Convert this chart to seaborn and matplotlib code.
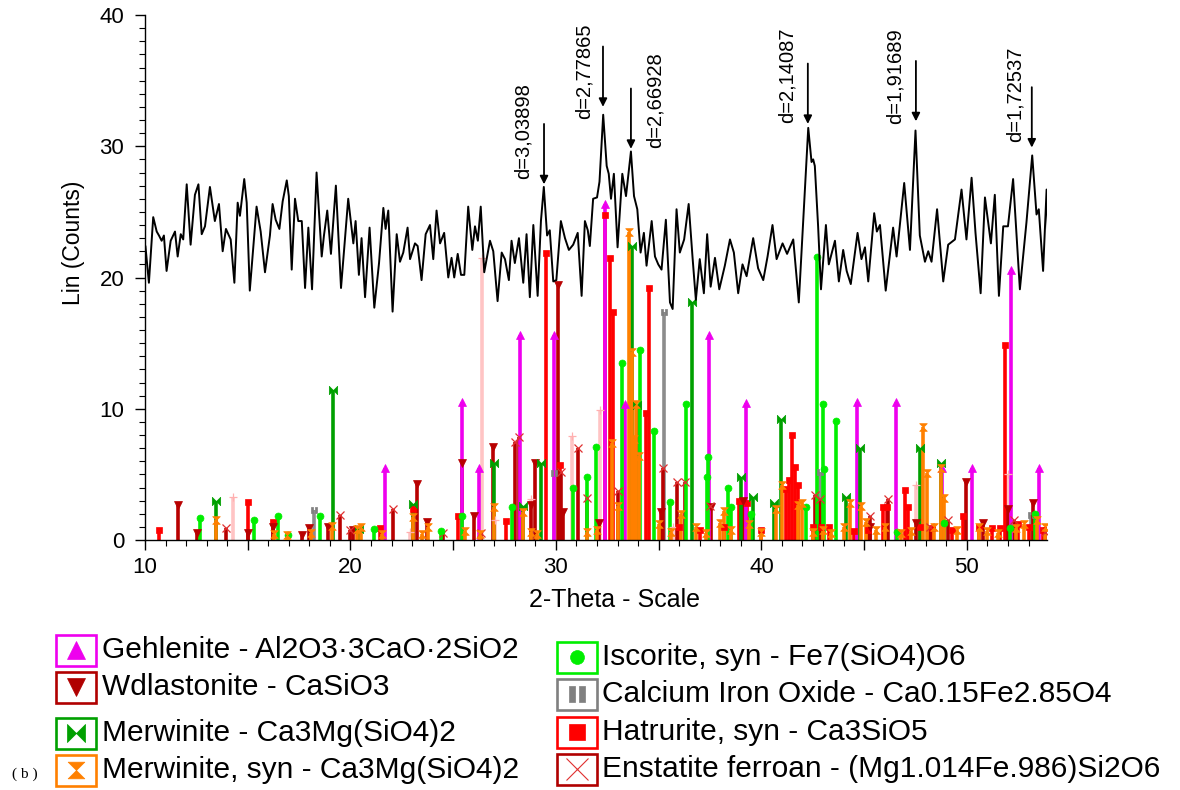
import matplotlib.pyplot as plt
import seaborn as sns
from matplotlib.path import Path
from matplotlib.patches import Rectangle
from matplotlib.lines import Line2D
from matplotlib.ticker import MultipleLocator, FuncFormatter

two_theta = [10.02, 10.19, 10.40, 10.57, 10.68, 10.81, 10.92, 11.05, 11.25, 11.46, 11.59, 11.74, 11.86,
             12.03, 12.22, 12.43, 12.60, 12.76, 12.92, 13.16, 13.40, 13.60, 13.78, 13.94, 14.17, 14.35,
             14.51, 14.62, 14.83, 14.95, 15.10, 15.43, 15.63, 15.84, 16.08, 16.21, 16.36, 16.54, 16.70,
             16.90, 17.00, 17.14, 17.30, 17.46, 17.63, 17.79, 17.95, 18.13, 18.35, 18.60, 18.71, 18.87,
             19.05, 19.29, 19.54, 19.89, 20.14, 20.25, 20.41, 20.54, 20.71, 20.93, 21.16, 21.39, 21.60,
             21.71, 21.84, 22.05, 22.25, 22.41, 22.57, 22.78, 22.90, 23.14, 23.27, 23.46, 23.66, 23.87,
             24.03, 24.19, 24.36, 24.56, 24.76, 24.92, 25.05, 25.22, 25.38, 25.54, 25.73, 25.93, 26.06,
             26.20, 26.34, 26.51, 26.79, 26.95, 27.16, 27.36, 27.52, 27.71, 27.84, 28.00, 28.20, 28.41,
             28.57, 28.73, 28.90, 29.11, 29.27, 29.41, 29.57, 29.70, 29.87, 30.02, 30.24, 30.44, 30.63,
             30.84, 31.06, 31.25, 31.41, 31.55, 31.65, 31.81, 32.00, 32.12, 32.30, 32.47, 32.57, 32.68,
             32.82, 33.00, 33.23, 33.41, 33.65, 33.80, 33.96, 34.12, 34.28, 34.41, 34.66, 34.82, 34.98,
             35.14, 35.35, 35.55, 35.68, 35.87, 36.03, 36.24, 36.46, 36.65, 36.81, 37.00, 37.20, 37.36,
             37.53, 37.74, 37.95, 38.22, 38.47, 38.66, 38.87, 39.08, 39.28, 39.60, 39.84, 40.09, 40.30,
             40.54, 40.74, 41.03, 41.25, 41.55, 41.82, 42.03, 42.28, 42.44, 42.52, 42.60, 42.76, 42.90,
             43.14, 43.28, 43.58, 43.77, 43.98, 44.15, 44.35, 44.68, 44.87, 45.04, 45.20, 45.49, 45.62,
             45.77, 46.05, 46.41, 46.58, 46.95, 47.23, 47.50, 47.71, 47.96, 48.12, 48.28, 48.55, 48.85,
             49.09, 49.42, 49.74, 49.98, 50.23, 50.42, 50.67, 50.88, 51.17, 51.36, 51.56, 51.77, 52.00,
             52.25, 52.58, 52.90, 53.18, 53.39, 53.50, 53.71, 53.88, 53.95]
counts = [22.4, 19.6, 24.6, 23.5, 23.2, 22.8, 23.2, 20.5, 22.8, 23.5, 21.6, 23.3, 22.9,
          27.1, 22.5, 26.3, 27.1, 23.3, 23.9, 26.9, 24.3, 25.6, 22.0, 23.7, 22.9, 19.6,
          25.7, 24.7, 27.5, 25.7, 19.0, 25.4, 23.5, 20.4, 23.2, 25.6, 24.4, 23.7, 25.8,
          27.4, 26.2, 20.6, 26.0, 24.3, 24.3, 19.2, 23.8, 19.1, 28.0, 21.6, 23.2, 25.1,
          21.8, 27.0, 19.2, 26.0, 22.6, 24.3, 20.2, 23.0, 18.5, 23.8, 17.7, 21.1, 25.3,
          23.7, 25.1, 17.4, 23.3, 21.2, 21.9, 23.8, 21.4, 22.6, 22.4, 19.8, 23.3, 24.0,
          21.4, 25.1, 22.6, 23.4, 20.0, 21.5, 20.0, 21.8, 20.2, 20.2, 25.4, 22.1, 23.9,
          22.8, 25.4, 20.4, 22.8, 22.0, 18.2, 21.9, 21.4, 19.8, 22.8, 21.1, 23.0, 19.6,
          23.3, 18.5, 24.0, 18.6, 24.3, 26.9, 23.2, 23.6, 19.7, 19.8, 24.3, 23.0, 22.1,
          22.5, 23.4, 18.6, 24.3, 23.6, 22.4, 26.0, 26.1, 27.3, 32.4, 28.5, 27.9, 26.0,
          27.9, 22.3, 27.9, 26.2, 29.6, 26.2, 25.2, 21.9, 23.4, 20.9, 24.3, 21.6, 21.0,
          20.6, 24.4, 18.1, 17.6, 25.2, 21.9, 22.9, 25.6, 21.5, 18.3, 21.4, 18.8, 23.3,
          19.3, 21.5, 19.1, 20.9, 22.9, 21.9, 18.8, 21.0, 20.1, 23.0, 20.7, 19.8, 21.6,
          24.0, 21.4, 22.6, 21.8, 22.9, 18.1, 24.2, 31.4, 28.8, 29.0, 28.5, 23.9, 19.1,
          24.0, 21.0, 22.8, 19.7, 22.1, 20.5, 19.5, 23.4, 21.4, 22.3, 19.7, 24.9, 23.5,
          24.0, 19.0, 23.8, 21.6, 27.2, 22.1, 31.2, 23.2, 21.2, 22.0, 21.2, 25.2, 19.7,
          22.5, 22.9, 26.7, 22.9, 27.6, 23.4, 18.8, 26.1, 22.6, 26.3, 18.6, 23.9, 23.9,
          27.5, 19.1, 24.2, 29.3, 24.8, 25.2, 20.5, 26.7, 23.5]

# reference phases: (2-theta, intensity)
gehlenite = [(21.70, 5.5), (25.45, 10.55), (26.27, 5.5), (28.25, 15.6), (29.93, 15.6), (32.40, 25.6),
             (33.35, 10.4), (37.47, 15.6), (39.25, 10.45), (44.66, 10.5), (46.56, 10.5), (48.80, 5.45),
             (50.27, 5.45), (52.17, 20.6), (53.50, 5.45)]
wollastonite = [(11.60, 2.7), (12.55, 0.5), (15.00, 0.5), (16.25, 1.0), (17.62, 0.4), (18.00, 0.9),
                (18.90, 1.0), (20.10, 0.8), (23.22, 4.3), (23.71, 1.4), (25.45, 5.85), (26.00, 1.8),
                (26.95, 7.1), (28.77, 2.7), (28.98, 5.9), (30.10, 19.45), (30.35, 2.1), (32.10, 1.3),
                (35.10, 2.1), (37.55, 2.5), (39.12, 3.0), (45.30, 1.0), (47.50, 1.3), (49.97, 4.45),
                (50.80, 1.3), (52.00, 2.4), (53.22, 2.8)]
merwinite = [(13.45, 3.0), (19.15, 11.4), (20.40, 0.85), (23.05, 2.75), (26.97, 5.85), (28.38, 2.6),
             (29.25, 5.9), (33.68, 22.4), (33.96, 10.3), (36.64, 18.1), (38.99, 4.8), (39.57, 3.3),
             (40.62, 2.85), (40.93, 9.2), (44.10, 3.3), (44.80, 7.0), (47.74, 7.0), (48.72, 5.85)]
merwinite_syn = [(13.45, 1.5), (16.27, 0.45), (16.90, 0.4), (18.10, 0.5), (19.12, 1.05), (20.30, 0.85),
                 (20.50, 1.0), (21.55, 0.45), (23.05, 1.75), (23.50, 0.45), (23.75, 1.0), (25.55, 0.7),
                 (26.30, 0.45), (26.97, 2.5), (28.38, 2.1), (28.80, 0.6), (29.10, 0.45), (31.50, 0.6),
                 (32.00, 0.8), (32.74, 7.4), (33.02, 2.6), (33.55, 23.5), (33.70, 14.3), (33.80, 7.7),
                 (33.90, 10.4), (34.06, 6.4), (35.00, 1.2), (35.60, 0.6), (36.10, 2.0), (36.80, 1.0),
                 (37.30, 0.5), (38.00, 1.3), (38.20, 2.2), (38.50, 0.8), (39.40, 1.2), (40.00, 0.6),
                 (40.70, 2.4), (41.00, 4.2), (41.80, 2.7), (42.00, 2.8), (42.50, 0.6), (43.00, 0.8),
                 (43.40, 0.5), (44.00, 1.0), (44.30, 2.8), (44.85, 2.6), (45.10, 1.4), (45.60, 0.8),
                 (46.00, 1.0), (46.80, 0.5), (47.30, 0.7), (47.88, 8.6), (48.05, 5.1), (48.40, 1.0),
                 (48.75, 5.5), (48.90, 3.2), (49.50, 0.8), (50.60, 1.0), (51.00, 0.7), (51.50, 0.5),
                 (52.40, 0.9), (52.80, 1.2), (53.40, 1.5), (53.80, 1.0)]
iscorite = [(12.70, 1.7), (15.30, 1.5), (16.45, 1.8), (16.95, 0.35), (18.52, 1.8), (21.14, 0.85),
            (24.40, 0.65), (25.45, 1.8), (27.84, 2.5), (30.85, 4.0), (31.49, 4.8), (31.93, 7.1),
            (33.20, 13.5), (34.10, 14.5), (34.78, 8.3), (35.55, 2.9), (36.33, 10.4), (37.35, 4.8),
            (37.41, 6.3), (38.39, 4.0), (38.50, 2.5), (39.50, 2.0), (42.17, 2.5), (42.72, 21.6),
            (42.98, 10.4), (43.05, 5.4), (43.63, 9.1), (46.60, 0.6), (48.90, 1.3), (52.10, 0.9),
            (53.30, 2.0)]
calcium_iron_oxide = [(18.24, 2.3), (29.92, 5.1), (35.28, 17.4), (42.87, 5.2), (53.10, 1.9)]
hatrurite = [(10.70, 0.8), (15.00, 2.9), (16.25, 1.4), (21.43, 0.95), (23.06, 2.35), (25.25, 1.8),
             (27.55, 1.45), (29.50, 21.9), (30.20, 5.7), (32.38, 24.8), (32.63, 21.5), (32.78, 17.4),
             (34.38, 9.7), (34.55, 19.2), (36.00, 1.0), (37.00, 0.8), (38.20, 1.0), (38.90, 3.0),
             (39.30, 2.8), (40.00, 0.8), (41.20, 3.9), (41.35, 4.6), (41.47, 8.0), (41.62, 5.6),
             (41.80, 4.2), (42.50, 1.0), (42.90, 1.0), (43.30, 1.0), (44.50, 0.7), (45.20, 0.8),
             (45.93, 2.55), (46.10, 2.5), (46.98, 3.8), (47.15, 2.5), (47.70, 1.0), (48.30, 0.9),
             (49.30, 0.8), (49.80, 1.8), (50.60, 1.0), (51.20, 0.9), (51.60, 0.9), (51.85, 14.85),
             (52.50, 1.2), (53.00, 1.0), (53.70, 0.8)]
enstatite = [(13.95, 0.9), (19.50, 1.9), (20.00, 0.75), (22.08, 2.35), (24.50, 0.5), (26.35, 0.5),
             (28.00, 7.5), (28.20, 7.85), (30.25, 5.2), (31.05, 7.0), (31.50, 3.2), (33.03, 3.7),
             (35.20, 5.5), (35.90, 4.45), (36.28, 4.45), (37.50, 2.6), (42.60, 3.4), (42.85, 3.1),
             (45.30, 1.8), (46.17, 3.1), (48.20, 1.0), (49.10, 1.5), (52.30, 1.5), (53.80, 0.6)]
unlisted_phase = [(14.30, 3.3), (22.90, 0.6), (26.40, 21.5), (27.05, 1.5), (28.77, 3.1), (30.80, 7.9),
                  (32.14, 9.9), (35.70, 1.0), (47.50, 4.2), (52.00, 5.0)]

# labelled peaks
peak_labels = ['d=3,03898', 'd=2,77865', 'd=2,66928', 'd=2,14087', 'd=1,91689', 'd=1,72537']
peak_pos = [29.42, 32.29, 33.65, 42.26, 47.52, 53.16]
peak_tip = [27.1, 33.0, 29.8, 31.7, 31.9, 29.9]

legend_labels = ['Gehlenite - Al2O3·3CaO·2SiO2', 'Wdlastonite - CaSiO3', 'Merwinite - Ca3Mg(SiO4)2',
                 'Merwinite, syn - Ca3Mg(SiO4)2', 'Iscorite, syn - Fe7(SiO4)O6',
                 'Calcium Iron Oxide - Ca0.15Fe2.85O4', 'Hatrurite, syn - Ca3SiO5',
                 'Enstatite ferroan - (Mg1.014Fe.986)Si2O6']

# custom stick symbols
bowtie = Path([(-1, 1), (-1, -1), (0, 0), (-1, 1), (1, 1), (1, -1), (0, 0), (1, 1)],
              [Path.MOVETO, Path.LINETO, Path.LINETO, Path.CLOSEPOLY] * 2)
hourglass = Path([(-1, 1), (1, 1), (0, 0), (-1, 1), (-1, -1), (1, -1), (0, 0), (-1, -1)],
                 [Path.MOVETO, Path.LINETO, Path.LINETO, Path.CLOSEPOLY] * 2)
pause = Path([(-0.9, -1), (-0.2, -1), (-0.2, 1), (-0.9, 1), (-0.9, -1),
              (0.2, -1), (0.9, -1), (0.9, 1), (0.2, 1), (0.2, -1)],
             [Path.MOVETO, Path.LINETO, Path.LINETO, Path.LINETO, Path.CLOSEPOLY] * 2)

sns.set_style('ticks')
plt.rcParams['font.family'] = ['Liberation Sans', 'DejaVu Sans']
plt.rcParams['text.color'] = 'black'
plt.rcParams['axes.labelcolor'] = 'black'
plt.rcParams['xtick.color'] = 'black'
plt.rcParams['ytick.color'] = 'black'

fig = plt.figure(figsize=(11.8, 7.9), dpi=100)
ax = fig.add_axes([145 / 1180, 1 - 540 / 790, 902 / 1180, 525 / 790])

# phase sticks: data, stick colour, marker, marker colour, marker size, edge width
phases = [
    (unlisted_phase, '#FFC4C4', '+', '#FFB0B0', 6, 0.9),
    (calcium_iron_oxide, '#8C8C8C', pause, '#808080', 5, 0.5),
    (hatrurite, '#FF0000', 's', '#FF0000', 5, 0.5),
    (wollastonite, '#B80000', 'v', '#B80000', 6, 0.5),
    (enstatite, '#B80000', 'x', '#E03030', 5.5, 0.9),
    (gehlenite, '#EE00EE', '^', '#EE00EE', 6, 0.5),
    (merwinite, '#00A000', bowtie, '#00A000', 6, 0.5),
    (iscorite, '#00EE00', 'o', '#00EE00', 5, 0.5),
    (merwinite_syn, '#FF8000', hourglass, '#FF8000', 5.5, 0.5),
]
for data, col, mk, mcol, ms, mew in phases:
    pos = [p for p, h in data]
    hgt = [h for p, h in data]
    ax.vlines(pos, 0, hgt, colors=col, linewidth=2.6, zorder=2)
    ax.plot(pos, hgt, linestyle='none', marker=mk, color=mcol, markersize=ms,
            markeredgewidth=mew, zorder=3)

sns.lineplot(x=two_theta, y=counts, ax=ax, color='black', linewidth=1.4,
             sort=False, estimator=None, zorder=5)

label_dx = [-1.0, -0.9, 1.17, -1.02, -1.02, -0.82]
label_y = [27.5, 32.1, 29.9, 31.8, 31.7, 30.3]
for lab, x, tip, dx, ly in zip(peak_labels, peak_pos, peak_tip, label_dx, label_y):
    ax.annotate('', xy=(x, tip), xytext=(x, tip + 4.6),
                arrowprops=dict(arrowstyle='-|>', color='black', lw=1.3,
                                mutation_scale=12, shrinkA=0, shrinkB=0), zorder=6)
    ax.text(x + dx, ly, lab, rotation=90, ha='center', va='bottom', fontsize=14.5)

ax.set_xlim(10, 53.9)
ax.set_ylim(0, 40)
ax.xaxis.set_major_locator(MultipleLocator(5))
ax.xaxis.set_minor_locator(MultipleLocator(1))
ax.xaxis.set_major_formatter(FuncFormatter(lambda v, p: f'{v:.0f}' if round(v) % 10 == 0 else ''))
ax.yaxis.set_major_locator(MultipleLocator(10))
ax.yaxis.set_minor_locator(MultipleLocator(1))
ax.tick_params(which='major', direction='out', length=7, width=1, labelsize=16, color='black')
ax.tick_params(which='minor', direction='out', length=4, width=0.8, color='black')
ax.tick_params(axis='y', which='major', pad=8)
ax.tick_params(axis='x', which='major', pad=5)
ax.set_xlabel('2-Theta - Scale', fontsize=18)
ax.set_ylabel('Lin (Counts)', fontsize=16.5)
ax.xaxis.set_label_coords(0.521, -0.092)
ax.yaxis.set_label_coords(-0.067, 0.566)
sns.despine(ax=ax)
for s in ['left', 'bottom']:
    ax.spines[s].set_color('black')
    ax.spines[s].set_linewidth(1.0)

# legend drawn as boxed symbols below the axes
legend_style = [
    ('#EE00EE', '^', '#EE00EE', 13, 0.5),
    ('#B00000', 'v', '#B00000', 13, 0.5),
    ('#00A000', bowtie, '#00A000', 13, 0.5),
    ('#FF8000', hourglass, '#FF8000', 12, 0.5),
    ('#00EE00', 'o', '#00EE00', 10, 0.5),
    ('#808080', pause, '#808080', 12, 0.5),
    ('#FF0000', 's', '#FF0000', 11, 0.5),
    ('#B00000', 'x', '#E03030', 16, 0.8),
]
rows_left = [650, 687, 733, 770]
rows_right = [657, 694, 732, 769]
for i, (lab, (ec, mk, mcol, ms, mew)) in enumerate(zip(legend_labels, legend_style)):
    if i < 4:
        bx, cy, tx = 56, rows_left[i], 102
    else:
        bx, cy, tx = 557, rows_right[i - 4], 602
    bw, bh = 40, 31
    fig.add_artist(Rectangle((bx / 1180, 1 - (cy + bh / 2) / 790), bw / 1180, bh / 790,
                             transform=fig.transFigure, fill=False, edgecolor=ec, linewidth=1.9))
    fig.add_artist(Line2D([(bx + bw / 2) / 1180], [1 - cy / 790], transform=fig.transFigure,
                          linestyle='none', marker=mk, color=mcol, markersize=ms,
                          markeredgewidth=mew))
    fig.text(tx / 1180, 1 - cy / 790, lab, ha='left', va='center', fontsize=21.5, color='black')

fig.text(12 / 1180, 1 - 774 / 790, '( b )', ha='left', va='center', fontsize=11, color='black',
         family=['Liberation Serif', 'DejaVu Serif'])

fig.savefig('out.png', dpi=100, facecolor='white')
